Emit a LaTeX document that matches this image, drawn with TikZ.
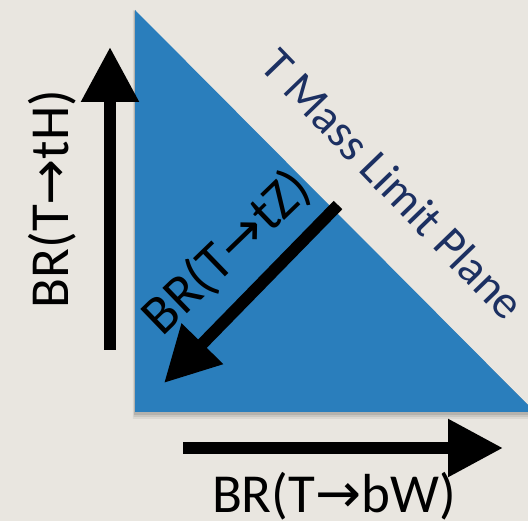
\documentclass[tikz,border=0pt]{standalone}
\usepackage{fontspec}
\setmainfont{Carlito}
\newfontfamily\arrfont{DejaVu Sans}
\usetikzlibrary{arrows.meta}
\definecolor{bg}{RGB}{233,230,224}
\definecolor{tri}{RGB}{42,126,188}
\definecolor{navy}{RGB}{28,48,98}
\newcommand{\myarr}{{\arrfont →}}
\begin{document}
\begin{tikzpicture}[x=1pt,y=-1pt,
  bigarrow/.style={line width=12pt,-{Triangle[length=55pt,width=55pt]},black},
  lbl/.style={font=\fontsize{55}{60}\selectfont,inner sep=0pt,text=black},
  planelbl/.style={font=\fontsize{47}{52}\selectfont,inner sep=0pt,text=navy}]
\useasboundingbox (0,0) rectangle (528,521);
\fill[bg] (0,0) rectangle (528,521);
\begin{scope}
  \clip (0,0) rectangle (528,521);
  \foreach \d/\o in {7/0.06,5/0.08,3/0.10}{
    \fill[black,opacity=\o] (135-\d*0.3,10) -- (135-\d*0.3,412+\d) -- (535+\d,412+\d) -- cycle;
  }
  \fill[tri] (135,10) -- (135,412) -- (535,412) -- cycle;
\end{scope}
% arrows
\coordinate (thS) at (110,350);
\coordinate (thE) at (110,47);
\coordinate (bwS) at (183,448);
\coordinate (bwE) at (503,448);
\coordinate (tzS) at (338,205);
\coordinate (tzE) at (164,383);
\draw[bigarrow] (thS) -- (thE);
\draw[bigarrow] (bwS) -- (bwE);
\draw[bigarrow] (tzS) -- (tzE);
% labels
\node[lbl,rotate=90,anchor=base] (lth) at (68,199) {BR(T\myarr tH)};
\node[lbl,anchor=base] (lbw) at (334,512) {BR(T\myarr bW)};
\node[lbl,rotate=44] (ltz) at (227,253) {BR(T\myarr tZ)};
\node[planelbl,rotate=-46] (lplane) at (393,184) {T Mass Limit Plane};
\end{tikzpicture}
\end{document}
